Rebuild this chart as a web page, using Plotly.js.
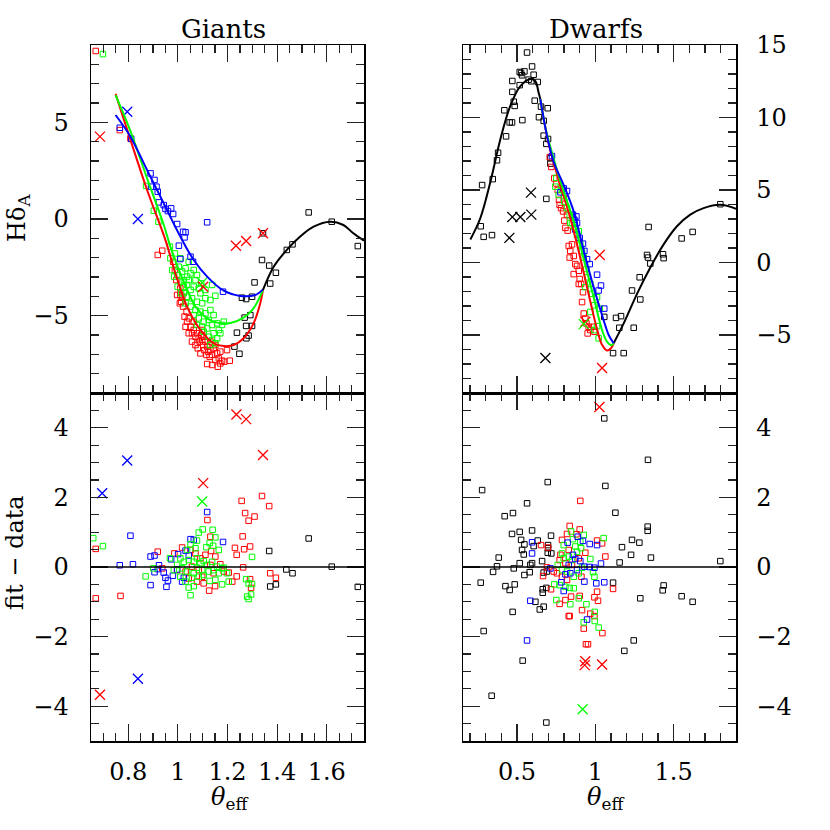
<!DOCTYPE html>
<html>
<head>
<meta charset="utf-8">
<script src="https://cdn.plot.ly/plotly-3.0.1.min.js"></script>
<style>html,body{margin:0;padding:0;background:#fff;}#chart{width:830px;height:830px;}</style>
</head>
<body>
<div id="chart"></div>
<script>
// ---------- Giants: H-delta_A vs theta_eff ----------
const giantsRed = [[0.669,8.69],[0.766,4.60],[0.809,4.17],[0.937,-1.64],[0.919,-1.86],[0.981,-2.21],[0.988,-2.64],[0.994,-3.16],[0.997,-3.93],[1.010,-3.59],[1.013,-4.28],[1.021,-4.53],[1.027,-5.05],[1.035,-4.79],[1.037,-5.31],[1.044,-5.14],[1.051,-5.57],[1.057,-5.91],[1.064,-5.74],[1.071,-6.09],[1.077,-5.91],[1.084,-6.17],[1.088,-6.34],[1.094,-6.00],[1.098,-6.26],[1.102,-6.52],[1.104,-6.09],[1.107,-6.78],[1.111,-6.34],[1.115,-7.03],[1.118,-6.60],[1.122,-6.86],[1.128,-7.12],[1.131,-6.78],[1.138,-7.03],[1.144,-6.69],[1.151,-7.29],[1.158,-6.95],[1.161,-7.64],[1.165,-7.21],[1.171,-7.47],[1.178,-7.33],[1.118,-7.50],[1.138,-7.55],[1.187,-7.38],[1.209,-7.33],[1.071,-6.52],[1.080,-6.69],[1.057,-6.34],[1.091,-6.95],[1.044,-5.91],[1.008,-4.36],[1.018,-4.02],[1.031,-5.57],[1.064,-5.31],[1.098,-5.74],[1.131,-6.34],[1.151,-6.52],[1.171,-6.86],[1.198,-6.78],[1.010,-3.93]];
const giantsGreen = [[0.698,8.53],[0.872,1.71],[0.903,0.43],[0.922,-0.14],[0.968,-1.43],[0.988,-1.78],[0.970,-2.03],[1.010,-2.03],[1.044,-2.21],[0.977,-2.64],[0.997,-2.90],[1.004,-2.47],[1.017,-2.72],[1.031,-2.55],[1.037,-2.98],[1.051,-2.81],[1.064,-2.64],[1.077,-2.90],[1.071,-3.16],[1.010,-3.24],[1.024,-3.50],[1.037,-3.41],[1.051,-3.67],[1.064,-3.50],[1.084,-3.59],[1.091,-3.84],[1.111,-3.67],[1.138,-3.41],[1.151,-3.97],[1.131,-4.19],[1.111,-4.10],[1.098,-4.36],[1.077,-4.28],[1.057,-4.10],[1.037,-4.02],[1.024,-3.84],[1.031,-4.36],[1.051,-4.53],[1.071,-4.71],[1.091,-4.79],[1.111,-4.88],[1.131,-4.71],[1.144,-4.97],[1.124,-5.22],[1.104,-5.31],[1.084,-5.14],[1.064,-4.97],[1.077,-5.48],[1.098,-5.57],[1.118,-5.66],[1.138,-5.48],[1.158,-5.40],[1.178,-5.48],[1.165,-5.74],[1.144,-5.91],[1.124,-6.09],[1.104,-5.83],[1.138,-6.26],[1.158,-6.17],[1.171,-5.91],[1.151,-6.43],[1.131,-6.52],[1.185,-5.31],[0.985,-2.98],[0.999,-3.50],[1.013,-3.84],[1.044,-3.16],[1.094,-3.33],[1.024,-3.16]];
const giantsBlue = [[0.766,4.72],[0.812,4.14],[0.890,2.36],[0.906,2.02],[0.892,1.67],[0.919,1.41],[0.914,1.67],[0.923,0.86],[0.943,0.72],[0.950,0.52],[0.960,0.41],[0.973,0.55],[0.981,0.26],[0.997,-0.26],[1.021,-0.66],[1.031,-0.69],[1.027,-0.95],[1.004,-1.38],[1.010,-2.07],[1.051,-1.95],[1.061,-2.21],[1.118,-0.17],[1.182,-3.76]];
const giantsBlack = [[1.527,0.34],[1.620,-0.14],[1.725,-1.40],[1.462,-1.31],[1.439,-1.60],[1.343,-0.74],[1.339,-2.12],[1.368,-2.41],[1.395,-2.78],[1.372,-3.34],[1.309,-3.28],[1.258,-4.07],[1.275,-4.14],[1.299,-4.02],[1.269,-5.10],[1.292,-4.97],[1.299,-5.53],[1.275,-5.53],[1.238,-5.88],[1.285,-6.03],[1.276,-6.17],[1.228,-6.60],[1.248,-6.97]];
const giantsRedCross = [[0.686,4.26],[1.234,-1.38],[1.275,-1.14],[1.343,-0.74],[1.102,-3.50]];
const giantsBlueCross = [[0.796,5.55],[0.839,0.00]];
const giantsGreenCross = [[1.098,-3.29]];
const giantsFitRed = [[0.749,6.47],[0.809,4.09],[0.876,1.50],[0.950,-1.09],[0.990,-2.81],[1.037,-4.53],[1.091,-5.74],[1.144,-6.43],[1.185,-6.57],[1.225,-6.52],[1.265,-6.17],[1.305,-5.40],[1.332,-4.36],[1.343,-3.67]];
const giantsFitGreen = [[0.749,6.41],[0.809,4.55],[0.876,2.10],[0.943,-0.30],[0.970,-1.43],[1.010,-2.81],[1.071,-4.53],[1.118,-5.14],[1.158,-5.36],[1.212,-5.38],[1.265,-5.10],[1.305,-4.62],[1.343,-3.67]];
const giantsFitBlue = [[0.749,5.38],[0.809,4.26],[0.876,2.53],[0.943,0.81],[1.010,-0.91],[1.064,-2.12],[1.118,-2.98],[1.185,-3.71],[1.252,-3.98],[1.312,-3.93],[1.343,-3.64]];
const giantsFitBlack = [[1.343,-3.67],[1.386,-2.47],[1.439,-1.60],[1.493,-0.91],[1.547,-0.40],[1.614,-0.14],[1.667,-0.31],[1.707,-0.74],[1.750,-1.12]];

// ---------- Dwarfs: H-delta_A vs theta_eff ----------
const dwarfsBlack = [[0.564,14.48],[0.596,13.52],[0.517,13.14],[0.526,13.07],[0.547,13.18],[0.532,12.91],[0.606,12.95],[0.574,12.61],[0.591,12.50],[0.632,12.45],[0.517,12.23],[0.470,12.52],[0.470,11.77],[0.479,11.09],[0.485,10.80],[0.419,10.50],[0.453,9.66],[0.468,9.66],[0.534,9.82],[0.430,8.70],[0.379,7.57],[0.372,7.05],[0.345,5.75],[0.277,5.34],[0.268,2.50],[0.287,1.77],[0.340,1.89],[0.613,11.16],[0.653,10.75],[0.696,10.64],[0.640,10.02],[0.670,9.77],[0.670,8.75],[0.687,8.18],[0.698,8.52],[0.713,7.20],[0.713,6.82],[0.687,4.39],[1.057,-3.75],[1.132,-3.82],[1.164,-3.70],[1.153,-4.50],[1.113,-6.25],[1.181,-6.25],[1.245,-4.50],[1.234,-1.93],[1.287,-2.55],[1.283,-1.02],[1.330,0.52],[1.336,0.34],[1.351,-0.07],[1.432,0.57],[1.436,0.30],[1.340,2.45],[1.551,1.66],[1.621,2.11],[1.798,4.02]];
const dwarfsRed = [[0.709,7.27],[0.719,6.59],[0.738,5.80],[0.751,5.45],[0.760,5.00],[0.768,4.32],[0.772,3.98],[0.781,3.75],[0.794,3.52],[0.802,2.89],[0.809,2.39],[0.823,2.20],[0.830,1.14],[0.836,0.34],[0.840,0.80],[0.851,1.25],[0.862,0.45],[0.872,-0.11],[0.883,-0.23],[0.894,-0.57],[0.900,-1.14],[0.909,-1.48],[0.915,-2.73],[0.926,-3.52],[0.943,-4.20],[0.957,-4.43],[0.968,-4.66],[0.951,-4.89],[0.989,-4.43],[0.994,-4.77],[0.936,-3.86],[0.894,-1.48],[0.862,-0.80],[0.921,-2.05],[0.819,3.30],[0.798,4.43]];
const dwarfsGreen = [[0.751,5.84],[0.745,5.23],[0.766,4.66],[0.787,5.00],[0.802,4.20],[0.819,3.75],[0.836,3.25],[0.851,2.73],[0.866,2.43],[0.883,1.93],[0.904,1.25],[0.915,0.80],[0.926,0.34],[0.943,-0.45],[0.951,-1.02],[0.968,-1.48],[0.936,-1.70],[0.979,-2.16],[1.011,-2.39],[0.994,-2.95],[1.028,-3.18],[0.968,-3.41],[1.011,-4.39],[1.021,-5.23],[0.994,-4.66],[0.840,2.73],[0.894,2.16]];
const dwarfsBlue = [[0.723,7.34],[0.798,5.11],[0.819,4.93],[0.777,4.84],[0.857,3.30],[0.866,2.95],[0.883,2.73],[0.872,2.27],[0.921,1.30],[0.930,0.80],[0.964,-0.11],[0.947,0.23],[1.011,-0.84],[1.036,-1.59],[1.021,-1.93],[1.057,-3.18],[0.879,3.18],[0.900,1.70]];
const dwarfsBlackCross = [[0.589,4.82],[0.470,3.14],[0.521,3.14],[0.591,3.30],[0.451,1.70],[0.681,-6.59]];
const dwarfsRedCross = [[1.028,0.52],[1.043,-7.27],[0.936,-4.09]];
const dwarfsGreenCross = [[0.926,-4.25]];
const dwarfsFitBlackLeft = [[0.202,1.59],[0.266,3.07],[0.330,5.57],[0.394,8.52],[0.457,10.80],[0.521,12.16],[0.585,12.66],[0.617,12.50],[0.638,11.70],[0.649,11.25]];
const dwarfsFitBlackRight = [[1.117,-5.57],[1.181,-4.20],[1.266,-2.16],[1.351,-0.34],[1.436,1.25],[1.521,2.50],[1.606,3.30],[1.691,3.75],[1.798,3.98],[1.900,3.70]];
const dwarfsFitRed = [[0.649,11.25],[0.670,9.90],[0.713,7.70],[0.777,5.30],[0.840,3.07],[0.904,0.30],[0.968,-2.70],[1.011,-4.60],[1.043,-5.68],[1.074,-6.07],[1.100,-5.91],[1.117,-5.57]];
const dwarfsFitGreen = [[0.649,11.25],[0.681,9.32],[0.734,7.16],[0.798,4.89],[0.862,2.84],[0.926,0.23],[0.989,-2.39],[1.043,-4.66],[1.074,-5.45],[1.100,-5.70],[1.117,-5.57]];
const dwarfsFitBlue = [[0.649,11.25],[0.691,8.75],[0.734,6.93],[0.798,5.34],[0.862,3.52],[0.926,0.80],[0.989,-1.70],[1.053,-3.98],[1.085,-5.00],[1.117,-5.57]];

// ---------- Giants: fit - data ----------
const giantsResRed = [[0.669,0.52],[0.669,-0.90],[0.769,-0.83],[0.919,0.44],[1.257,1.90],[1.339,2.04],[1.368,1.75],[1.271,1.55],[1.285,1.33],[1.309,1.45],[1.119,1.35],[1.131,0.87],[1.261,0.88],[1.230,0.55],[1.267,0.51],[1.291,0.59],[1.237,0.35],[1.263,-0.01],[1.237,-0.27],[1.219,-0.42],[1.291,-0.35],[1.295,-0.60],[1.372,-0.18],[1.395,-0.31],[1.126,-0.68],[1.150,-0.55],[1.017,0.56],[0.986,0.39],[1.051,0.49],[1.071,0.39],[1.091,0.25],[1.111,0.35],[1.134,0.46],[1.151,0.30],[1.171,0.08],[1.185,-0.13],[1.205,-0.16],[1.077,-0.42],[1.104,-0.47],[1.031,-0.13],[1.057,0.01],[1.084,-0.09],[1.144,-0.18],[1.131,0.06],[1.098,-0.28],[0.937,-0.04],[0.997,-0.09],[1.044,-0.33]];
const giantsResGreen = [[0.659,0.83],[0.698,0.60],[0.870,-0.27],[0.901,-0.04],[0.968,0.25],[1.051,-0.81],[1.044,-0.59],[1.064,-0.55],[1.084,0.99],[1.100,1.08],[1.140,1.07],[1.151,0.85],[1.128,0.69],[1.115,0.57],[1.142,0.61],[1.165,0.49],[1.077,0.76],[1.071,0.54],[1.051,0.65],[1.037,0.49],[1.010,0.25],[1.024,0.15],[1.044,0.20],[1.064,0.15],[1.077,0.25],[1.091,0.11],[1.104,0.17],[1.118,0.06],[1.138,0.15],[1.158,0.01],[1.178,-0.04],[1.198,-0.18],[1.205,-0.42],[1.178,-0.50],[1.151,-0.37],[1.128,-0.40],[1.104,-0.23],[1.084,-0.28],[1.064,-0.18],[1.037,-0.13],[1.017,-0.04],[0.997,0.06],[0.984,-0.09],[1.010,-0.28],[1.031,-0.42],[1.057,-0.31],[1.077,-0.02],[1.098,-0.09],[1.124,-0.13],[1.144,-0.09],[1.165,-0.18],[1.185,-0.02],[1.275,-0.35],[1.285,-0.47],[1.299,-0.49],[1.279,-0.85],[1.285,-0.92],[1.295,-0.79],[1.299,0.29]];
const giantsResBlue = [[0.809,0.90],[0.766,0.05],[0.819,0.08],[0.890,0.30],[0.906,0.33],[0.924,0.05],[0.919,-0.06],[0.906,-0.15],[0.943,-0.16],[0.950,-0.31],[0.960,-0.39],[0.980,-0.25],[0.890,-0.52],[0.954,-0.57],[0.973,0.22],[1.001,0.37],[1.031,0.47],[1.051,0.80],[1.064,0.78],[1.044,0.33],[1.118,1.58],[1.182,0.72],[1.017,-0.42],[1.024,-0.31],[0.997,-0.07]];
const giantsResBlack = [[1.527,0.82],[1.368,0.46],[1.437,-0.07],[1.462,-0.18],[1.620,0.01],[1.372,-0.56],[1.395,-0.50],[1.725,-0.57]];
const giantsResRedCross = [[1.236,4.38],[1.275,4.25],[1.343,3.22],[1.102,2.41],[0.686,-3.67]];
const giantsResBlueCross = [[0.796,3.06],[0.695,2.12],[0.839,-3.21]];
const giantsResGreenCross = [[1.098,1.88]];

// ---------- Dwarfs: fit - data ----------
const dwarfsResBlack = [[1.057,4.27],[1.336,3.08],[0.696,2.44],[1.064,2.33],[0.277,2.21],[0.564,1.83],[0.474,1.55],[0.421,1.46],[1.128,1.56],[1.334,1.16],[1.334,1.04],[0.468,0.95],[0.517,1.01],[0.596,1.05],[0.717,0.90],[0.526,0.78],[0.547,0.65],[0.532,0.49],[0.543,0.36],[0.632,0.76],[0.606,0.60],[0.698,0.63],[0.698,0.54],[0.696,0.41],[0.719,0.39],[0.660,0.17],[1.234,0.78],[1.281,0.70],[1.170,0.57],[1.228,0.35],[1.355,0.27],[1.155,0.13],[0.383,0.27],[0.372,0.02],[0.347,-0.14],[0.479,-0.04],[0.517,0.11],[0.585,0.06],[0.596,0.11],[0.581,-0.15],[0.547,-0.23],[0.691,-0.13],[0.670,-0.16],[0.268,-0.45],[0.426,-0.55],[0.485,-0.50],[0.453,-0.66],[0.664,-0.64],[0.664,-0.74],[0.687,-0.60],[1.113,-0.45],[1.436,-0.53],[1.430,-0.67],[1.287,-0.90],[1.551,-0.84],[1.621,-1.00],[1.798,0.17],[0.617,-1.00],[0.670,-1.14],[0.645,-1.22],[0.472,-1.29],[0.287,-1.84],[1.245,-2.11],[1.185,-2.41],[0.536,-2.69],[0.338,-3.70],[0.687,-4.47]];
const dwarfsResBlue = [[0.823,0.70],[0.857,0.35],[0.887,0.87],[0.921,0.75],[0.964,0.66],[1.011,0.63],[1.036,0.10],[0.994,-0.02],[0.964,0.00],[0.930,0.01],[0.904,0.17],[0.872,0.23],[0.830,0.06],[0.809,-0.21],[0.840,-0.18],[0.883,-0.09],[0.930,-0.42],[1.006,-0.47],[1.057,-0.44],[0.783,-0.44],[0.798,-0.69],[0.713,-0.04],[0.596,0.39],[0.596,0.71],[0.585,-0.97],[0.947,-1.51],[0.564,-2.11]];
const dwarfsResRed = [[0.904,1.90],[0.836,1.18],[0.900,1.08],[0.819,0.95],[0.787,0.78],[0.653,0.63],[0.698,0.56],[0.879,0.94],[1.011,0.76],[1.043,0.68],[1.064,0.30],[0.936,0.41],[0.830,0.49],[0.777,0.35],[0.772,0.20],[0.809,0.11],[0.851,0.06],[0.894,0.25],[0.691,-0.01],[0.734,-0.13],[0.755,-0.18],[0.787,-0.28],[0.819,-0.37],[0.911,-0.28],[0.666,-0.26],[0.717,-0.64],[1.113,-0.63],[1.011,-0.71],[0.994,-0.87],[1.017,-0.97],[0.900,-0.83],[0.845,-0.85],[0.809,-0.95],[0.772,-1.06],[0.830,-1.41],[0.836,-1.41],[0.915,-1.24],[0.968,-1.34],[0.994,-1.41],[0.926,-1.77],[1.045,-1.90],[0.940,-2.22],[0.953,-2.22]];
const dwarfsResGreen = [[0.845,1.02],[0.926,0.92],[1.053,0.83],[0.857,0.80],[0.904,0.73],[0.798,0.63],[0.787,0.39],[0.830,0.30],[0.851,0.20],[0.883,0.44],[0.909,0.54],[0.968,0.23],[0.872,0.59],[0.760,0.06],[0.787,-0.09],[0.819,-0.13],[0.862,-0.28],[0.894,-0.18],[0.994,-0.28],[0.985,-0.15],[0.738,-0.50],[0.772,-0.52],[0.836,-0.60],[0.862,-0.61],[0.809,-0.57],[0.751,-0.95],[0.840,-1.07],[0.894,-0.90],[0.943,-1.07],[0.996,-1.29],[0.996,-1.55],[0.926,-1.59],[1.021,-1.74],[0.798,0.25],[0.915,-0.02]];
const dwarfsResRedCross = [[1.026,4.60],[0.936,-2.71],[0.932,-2.82],[1.043,-2.80]];
const dwarfsResGreenCross = [[0.919,-4.09]];

// ---------- axis settings (tick labels) ----------
const giantsRange = [0.65, 1.75];
const dwarfsRange = [0.155, 1.898];
const topGiantsY = [-9, 9];
const topDwarfsY = [-9, 15];
const resY = [-5, 5];

const RED = '#ff0000', GREEN = '#00ff00', BLUE = '#0000ff', BLACK = '#000000';
const FONT = 'DejaVu Serif, serif';

function sq(pairs, color, xa, ya) {
  return {type:'scatter', mode:'markers', x:pairs.map(p=>p[0]), y:pairs.map(p=>p[1]), xaxis:xa, yaxis:ya,
    marker:{symbol:'square-open', size:5.5, color:color, line:{width:1, color:color}}, hoverinfo:'skip', cliponaxis:true};
}
function cross(pairs, color, xa, ya) {
  return {type:'scatter', mode:'markers', x:pairs.map(p=>p[0]), y:pairs.map(p=>p[1]), xaxis:xa, yaxis:ya,
    marker:{symbol:'x-thin-open', size:10, color:color, line:{width:1.3, color:color}}, hoverinfo:'skip'};
}
function curve(pairs, color, xa, ya) {
  return {type:'scatter', mode:'lines', x:pairs.map(p=>p[0]), y:pairs.map(p=>p[1]), xaxis:xa, yaxis:ya,
    line:{color:color, width:2, shape:'spline', smoothing:1}, hoverinfo:'skip'};
}

const traces = [
  sq(giantsBlack, BLACK,'x','y'), sq(giantsRed, RED,'x','y'), sq(giantsGreen, GREEN,'x','y'), sq(giantsBlue, BLUE,'x','y'),
  cross(giantsRedCross, RED,'x','y'), cross(giantsBlueCross, BLUE,'x','y'), cross(giantsGreenCross, GREEN,'x','y'),
  curve(giantsFitRed, RED,'x','y'), curve(giantsFitGreen, GREEN,'x','y'), curve(giantsFitBlue, BLUE,'x','y'), curve(giantsFitBlack, BLACK,'x','y'),

  sq(dwarfsBlack, BLACK,'x2','y2'), sq(dwarfsRed, RED,'x2','y2'), sq(dwarfsGreen, GREEN,'x2','y2'), sq(dwarfsBlue, BLUE,'x2','y2'),
  cross(dwarfsBlackCross, BLACK,'x2','y2'), cross(dwarfsRedCross, RED,'x2','y2'), cross(dwarfsGreenCross, GREEN,'x2','y2'),
  curve(dwarfsFitBlackLeft, BLACK,'x2','y2'), curve(dwarfsFitBlackRight, BLACK,'x2','y2'),
  curve(dwarfsFitRed, RED,'x2','y2'), curve(dwarfsFitGreen, GREEN,'x2','y2'), curve(dwarfsFitBlue, BLUE,'x2','y2'),

  sq(giantsResBlack, BLACK,'x3','y3'), sq(giantsResRed, RED,'x3','y3'), sq(giantsResBlue, BLUE,'x3','y3'), sq(giantsResGreen, GREEN,'x3','y3'),
  cross(giantsResRedCross, RED,'x3','y3'), cross(giantsResBlueCross, BLUE,'x3','y3'), cross(giantsResGreenCross, GREEN,'x3','y3'),

  sq(dwarfsResBlack, BLACK,'x4','y4'), sq(dwarfsResRed, RED,'x4','y4'), sq(dwarfsResGreen, GREEN,'x4','y4'), sq(dwarfsResBlue, BLUE,'x4','y4'),
  cross(dwarfsResRedCross, RED,'x4','y4'), cross(dwarfsResGreenCross, GREEN,'x4','y4')
];

const W = 830, H = 830;
const leftDom = [91/W, 364/W], rightDom = [463/W, 736/W];
const topDom = [1-393/H, 1-45/H], botDom = [1-741/H, 1-393/H];

function ax(extra, minorDtick) {
  return Object.assign({
    showline:true, linecolor:'#000', linewidth:1.5, mirror:'ticks',
    ticks:'inside', ticklen:17, tickwidth:1.2, tickcolor:'#222',
    minor:{ticks:'inside', ticklen:8, tickwidth:1.2, tickcolor:'#222', dtick:minorDtick, showgrid:false},
    showgrid:false, zeroline:false, fixedrange:true,
    tickfont:{family:FONT, size:24, color:'#000'}
  }, extra);
}

const layout = {
  width:W, height:H, margin:{l:0, r:0, t:0, b:0}, showlegend:false,
  paper_bgcolor:'#fff', plot_bgcolor:'#fff',
  xaxis: ax({domain:leftDom, anchor:'y', range:giantsRange, dtick:0.2, tick0:0, showticklabels:false}, 0.05),
  yaxis: ax({domain:topDom, anchor:'x', range:topGiantsY, dtick:5, tick0:0, ticklabelstandoff:16}, 1),
  xaxis2: ax({domain:rightDom, anchor:'y2', range:dwarfsRange, dtick:0.5, tick0:0, showticklabels:false}, 0.1),
  yaxis2: ax({domain:topDom, anchor:'x2', range:topDwarfsY, dtick:5, tick0:0, side:'right', ticklabelstandoff:14}, 1),
  xaxis3: ax({domain:leftDom, anchor:'y3', range:giantsRange, dtick:0.2, tick0:0, ticklabelstandoff:9}, 0.05),
  yaxis3: ax({domain:botDom, anchor:'x3', range:resY, dtick:2, tick0:0, ticklabelstandoff:16}, 0.5),
  xaxis4: ax({domain:rightDom, anchor:'y4', range:dwarfsRange, dtick:0.5, tick0:0, ticklabelstandoff:9}, 0.1),
  yaxis4: ax({domain:botDom, anchor:'x4', range:resY, dtick:2, tick0:0, side:'right', ticklabelstandoff:14}, 0.5),
  shapes: [
    {type:'line', xref:'x3 domain', yref:'y3', x0:0, x1:1, y0:0, y1:0, line:{color:'#000', width:1.5}},
    {type:'line', xref:'x4 domain', yref:'y4', x0:0, x1:1, y0:0, y1:0, line:{color:'#000', width:1.5}}
  ],
  annotations: [
    {text:'Giants', xref:'paper', yref:'paper', x:223/W, y:1-29/H, showarrow:false, xanchor:'center', yanchor:'middle', font:{family:FONT, size:26, color:'#000'}},
    {text:'Dwarfs', xref:'paper', yref:'paper', x:596/W, y:1-29/H, showarrow:false, xanchor:'center', yanchor:'middle', font:{family:FONT, size:26, color:'#000'}},
    {text:'Hδ<sub>A</sub>', xref:'paper', yref:'paper', x:18/W, y:1-218/H, showarrow:false, textangle:-90, xanchor:'center', yanchor:'middle', font:{family:FONT, size:24, color:'#000'}},
    {text:'fit − data', xref:'paper', yref:'paper', x:15/W, y:1-553/H, showarrow:false, textangle:-90, xanchor:'center', yanchor:'middle', font:{family:FONT, size:24, color:'#000'}},
    {text:'<i>θ</i><sub>eff</sub>', xref:'paper', yref:'paper', x:229/W, y:1-781/H, showarrow:false, xanchor:'center', yanchor:'top', font:{family:FONT, size:24, color:'#000'}},
    {text:'<i>θ</i><sub>eff</sub>', xref:'paper', yref:'paper', x:605/W, y:1-781/H, showarrow:false, xanchor:'center', yanchor:'top', font:{family:FONT, size:24, color:'#000'}}
  ]
};

Plotly.newPlot('chart', traces, layout, {staticPlot:true, displayModeBar:false});
</script>
</body>
</html>
